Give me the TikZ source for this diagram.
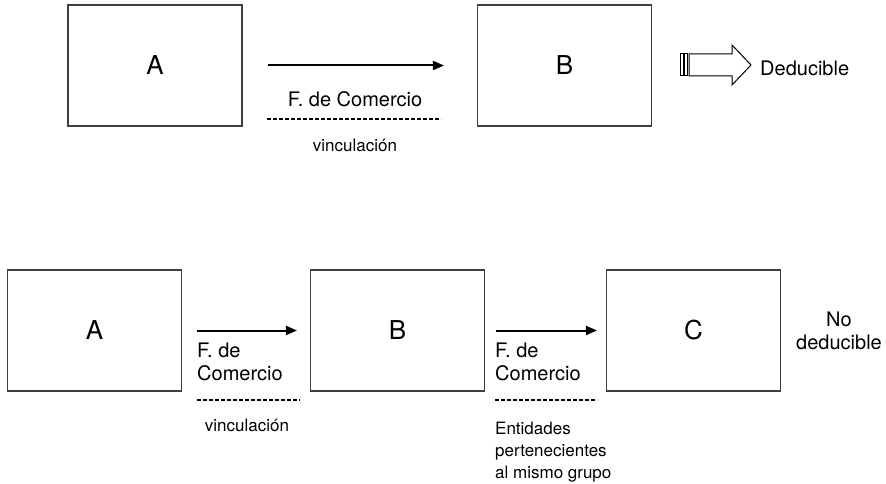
\documentclass[tikz,border=0pt]{standalone}
\usepackage{fontspec}
\setmainfont{TeX Gyre Heros}
\usetikzlibrary{arrows.meta}
\begin{document}
\begin{tikzpicture}[x=1pt,y=-1pt,
  box/.style={draw=black!75,line width=1.1pt,minimum width=174pt,minimum height=121pt,inner sep=0pt,font=\fontsize{26}{28}\selectfont},
  link/.style={line width=2pt,-{Triangle[length=11pt,width=9pt]}},
  dash line/.style={line width=1.6pt,dash pattern=on 4pt off 2pt},
  lbl/.style={inner sep=0pt,font=\fontsize{20}{23}\selectfont},
  small/.style={inner sep=0pt,font=\fontsize{17}{22}\selectfont}]
\useasboundingbox (0,0) rectangle (886,484);
% top row
\node[box] (A1) at (155,65.5) {A};
\node[box] (B1) at (564.5,65.5) {B};
\draw[link] ([xshift=25pt]A1.east) -- ([xshift=-33pt]B1.west);
\node[lbl] (fc1) at (355,99) {F. de Comercio};
\coordinate (d1a) at (267,119);
\coordinate (d1b) at (441,119);
\draw[dash line] (d1a) -- (d1b);
\node[small] (v1) at (355,145) {vinculación};
\draw[line width=1pt] (680,54) rectangle (683,76);
\draw[line width=1pt] (684.5,54) rectangle (687.5,76);
\draw[line width=1pt,line join=miter] (689,54) -- (732,54) -- (732,45) -- (751,65) -- (732,85) -- (732,76) -- (689,76) -- cycle;
\node[lbl,anchor=west] (ded) at (760,68) {Deducible};
% bottom row
\node[box] (A2) at (94.5,330.5) {A};
\node[box] (B2) at (397.5,330.5) {B};
\node[box] (C2) at (693.5,330.5) {C};
\draw[link] ([xshift=15pt]A2.east) -- ([xshift=-13pt]B2.west);
\draw[link] ([xshift=11pt]B2.east) -- ([xshift=-9pt]C2.west);
\node[lbl,anchor=west,align=left] (fc2) at (197,362) {F. de\\Comercio};
\node[lbl,anchor=west,align=left] (fc3) at (495,362) {F. de\\Comercio};
\coordinate (d2a) at (197,400);
\coordinate (d2b) at (300,400);
\coordinate (d3a) at (495,400);
\coordinate (d3b) at (597,400);
\draw[dash line] (d2a) -- (d2b);
\draw[dash line] (d3a) -- (d3b);
\node[small] (v2) at (247,425) {vinculación};
\node[small,anchor=west,align=left] (ent) at (495,452) {Entidades\\pertenecientes\\al mismo grupo};
\node[lbl,align=center] (nd) at (839,331) {No\\deducible};
\end{tikzpicture}
\end{document}
